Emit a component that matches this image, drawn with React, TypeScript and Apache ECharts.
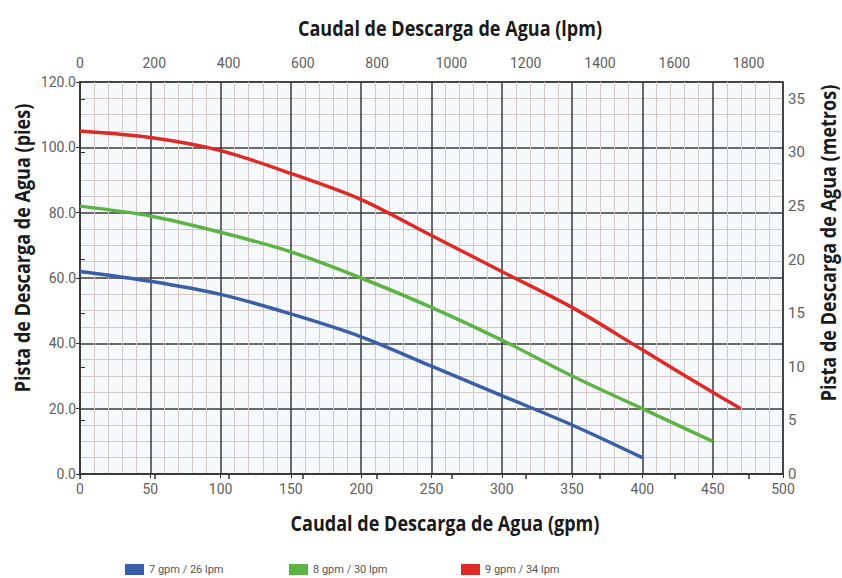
import React, { useEffect, useRef } from "react";
import * as echarts from "echarts";

const seriesNames = ["7 gpm / 26 lpm", "8 gpm / 30 lpm", "9 gpm / 34 lpm"];
const seriesColors = ["#3b5ea8", "#5db445", "#dc2a26"];

const gpm7 = [0, 50, 100, 150, 200, 250, 300, 350, 400];
const head7 = [62, 59, 55, 49, 42, 33, 24, 15, 5];

const gpm8 = [0, 50, 100, 150, 200, 250, 300, 350, 400, 450];
const head8 = [82, 79, 74, 68, 60, 51, 41, 30, 20, 10];

const gpm9 = [0, 50, 100, 150, 200, 250, 300, 350, 400, 450, 470];
const head9 = [105, 103, 99, 92, 84, 73, 62, 51, 38, 25, 20];

const GPM_MAX = 500;
const LPM_PER_GPM = 3.78541;
const FT_MAX = 120;
const M_PER_FT = 0.3048;

const titleTop = "Caudal de Descarga de Agua (lpm)";
const titleBottom = "Caudal de Descarga de Agua (gpm)";
const titleLeft = "Pista de Descarga de Agua (pies)";
const titleRight = "Pista de Descarga de Agua (metros)";

const FONT_LABEL = "Roboto, 'Noto Sans', sans-serif";
const FONT_TITLE = "'Open Sans', 'Noto Sans', sans-serif";

export default function App() {
  const ref = useRef<HTMLDivElement>(null);

  useEffect(() => {
    if (!ref.current) return;
    const chart = echarts.init(ref.current, null, { renderer: "svg" });

    const pairs = (xs: number[], ys: number[]) => xs.map((x, i) => [x, ys[i]]);
    const datasets = [pairs(gpm7, head7), pairs(gpm8, head8), pairs(gpm9, head9)];

    const labelStyle = { color: "#606060", fontSize: 14, fontFamily: FONT_LABEL };
    const darkLine = { color: "#3a3a3a", width: 1.5 };
    const minorLine = { color: "#d3c6c6", width: 1 };

    const titleStyle = {
      fill: "#1a1a1a",
      font: `bold 22px ${FONT_TITLE}`,
      textAlign: "center",
      textVerticalAlign: "middle",
    };
    const SX = 0.82;

    chart.setOption({
      animation: false,
      backgroundColor: "#ffffff",
      grid: {
        left: 80,
        right: 59,
        top: 82,
        height: 392,
        show: true,
        backgroundColor: "#f6f9fc",
        borderColor: "#333",
        borderWidth: 1.5,
      },
      xAxis: [
        {
          type: "value",
          position: "bottom",
          min: 0,
          max: GPM_MAX,
          interval: 50,
          axisLine: { show: true, lineStyle: darkLine },
          axisTick: { show: true, length: 4, lineStyle: { color: "#333" } },
          axisLabel: { ...labelStyle, margin: 8 },
          splitLine: { show: true, lineStyle: darkLine },
          minorTick: { show: false, splitNumber: 5 },
          minorSplitLine: { show: true, lineStyle: minorLine },
        },
        {
          type: "value",
          position: "top",
          min: 0,
          max: GPM_MAX * LPM_PER_GPM,
          interval: 200,
          axisLine: { show: true, lineStyle: darkLine },
          axisTick: { show: true, inside: true, length: 5, lineStyle: { color: "#333", width: 1.5 } },
          axisLabel: {
            ...labelStyle,
            margin: 12,
            showMaxLabel: false,
            formatter: (v: number) => (v % 200 === 0 ? String(v) : ""),
          },
          splitLine: { show: false },
        },
      ],
      yAxis: [
        {
          type: "value",
          position: "left",
          min: 0,
          max: FT_MAX,
          interval: 20,
          axisLine: { show: true, lineStyle: darkLine },
          axisTick: { show: true, length: 4, lineStyle: { color: "#333" } },
          axisLabel: { ...labelStyle, margin: 4, formatter: (v: number) => v.toFixed(1) },
          splitLine: { show: true, lineStyle: darkLine },
          minorTick: { show: false, splitNumber: 4 },
          minorSplitLine: { show: true, lineStyle: minorLine },
        },
        {
          type: "value",
          position: "right",
          min: 0,
          max: FT_MAX * M_PER_FT,
          interval: 5,
          axisLine: { show: true, lineStyle: darkLine },
          axisTick: { show: true, length: 5, lineStyle: { color: "#333" } },
          axisLabel: {
            ...labelStyle,
            fontSize: 15,
            margin: 5,
            showMaxLabel: false,
            formatter: (v: number) => (v % 5 === 0 ? String(v) : ""),
          },
          splitLine: { show: false },
        },
      ],
      legend: seriesNames.map((name, i) => ({
        data: [name],
        left: [125, 289, 461][i],
        top: 563,
        padding: 0,
        icon: "rect",
        itemWidth: 19,
        itemHeight: 11,
        itemGap: 4,
        textStyle: { color: "#555", fontSize: 11, lineHeight: 13, fontFamily: FONT_LABEL },
        selectedMode: false,
      })),
      series: seriesNames.map((name, i) => ({
        name,
        type: "line",
        xAxisIndex: 0,
        yAxisIndex: 0,
        smooth: 0.3,
        showSymbol: false,
        symbol: "none",
        color: seriesColors[i],
        lineStyle: { color: seriesColors[i], width: 3.5 },
        data: datasets[i],
        z: 5,
      })),
      graphic: [
        { type: "text", x: 450, y: 28, scaleX: SX, style: { text: titleTop, ...titleStyle } },
        { type: "text", x: 445, y: 523, scaleX: SX, style: { text: titleBottom, ...titleStyle } },
        { type: "text", x: 22, y: 248, rotation: Math.PI / 2, scaleX: SX, style: { text: titleLeft, ...titleStyle } },
        { type: "text", x: 828, y: 243, rotation: Math.PI / 2, scaleX: SX, style: { text: titleRight, ...titleStyle } },
      ],
    });

    return () => chart.dispose();
  }, []);

  return (
    <div
      ref={ref}
      style={{ position: "fixed", left: 0, top: 0, width: 842, height: 578, background: "#fff" }}
    />
  );
}
